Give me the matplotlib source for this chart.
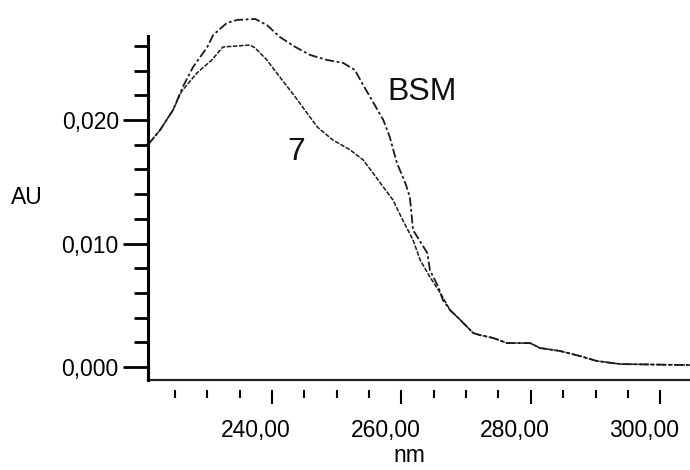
import numpy as np
import matplotlib
matplotlib.use("Agg")
import matplotlib.pyplot as plt
from matplotlib.transforms import ScaledTranslation

plt.rcParams['font.family'] = ['Liberation Sans', 'DejaVu Sans']

# absorbance spectra (nm, AU)
bsm_nm = [220.8, 222.7, 224.7, 226.2, 227.8, 230.0, 230.9, 233.0, 234.6, 237.4,
          239.2, 241.2, 243.6, 245.9, 248.5, 251.0, 252.8, 253.9, 255.6, 257.2,
          258.2, 259.3, 260.6, 261.3, 261.8, 264.0, 264.4, 265.7, 266.4, 267.5,
          269.1, 271.1, 272.1, 274.2, 276.3, 279.9, 281.4, 284.5, 287.6, 290.2,
          293.8, 304.6]
bsm_au = [0.01798, 0.01919, 0.02081, 0.02267, 0.02429, 0.02591, 0.02688, 0.02785,
          0.02810, 0.02818, 0.02769, 0.02672, 0.02591, 0.02526, 0.02486, 0.02462,
          0.02405, 0.02300, 0.02146, 0.02000, 0.01862, 0.01652, 0.01490, 0.01377,
          0.01109, 0.00923, 0.00785, 0.00648, 0.00543, 0.00462, 0.00381, 0.00275,
          0.00259, 0.00235, 0.00194, 0.00194, 0.00154, 0.00130, 0.00089, 0.00049,
          0.00024, 0.00016]

s7_nm = [220.8, 222.7, 224.7, 226.0, 228.4, 230.7, 232.4, 236.6, 237.4, 239.2,
         241.2, 243.6, 245.4, 247.0, 249.4, 252.1, 254.1, 255.6, 257.2, 258.7,
         260.2, 261.8, 262.9, 264.4, 266.0, 267.5, 269.1, 271.1, 272.1, 274.2,
         276.3, 279.9, 281.4, 284.5, 287.6, 290.2, 293.8, 304.6]
s7_au = [0.01798, 0.01919, 0.02081, 0.02230, 0.02381, 0.02486, 0.02591, 0.02607,
         0.02583, 0.02486, 0.02348, 0.02186, 0.02057, 0.01943, 0.01838, 0.01757,
         0.01676, 0.01571, 0.01457, 0.01352, 0.01190, 0.01028, 0.00866, 0.00729,
         0.00600, 0.00462, 0.00381, 0.00275, 0.00259, 0.00235, 0.00194, 0.00194,
         0.00154, 0.00130, 0.00089, 0.00049, 0.00024, 0.00016]

x_major = [240, 260, 280, 300]
x_minor = np.arange(225, 305, 5)
y_major = [0.0, 0.010, 0.020]
y_minor = np.arange(0.0, 0.0265, 0.002)

fig = plt.figure(figsize=(6.9, 4.7), dpi=100)
ax = fig.add_axes([148/690, 1 - 380/470, 1 - 148/690, (380 - 36)/470])

ax.plot(bsm_nm, bsm_au, color='#1a1a1a', lw=1.3, ls=(0, (5, 1.5, 1.5, 1.5)), clip_on=False)
ax.plot(s7_nm, s7_au, color='#1a1a1a', lw=1.1, ls=(0, (3, 1)), clip_on=False)

ax.set_xlim(220.83, 304.6)
ax.set_ylim(-0.00105, 0.0268)

for side in ['top', 'right']:
    ax.spines[side].set_visible(False)
ax.spines['left'].set_linewidth(2.2)
# bottom ticks sit below a gap, so move the spine and draw the axis line by hand
ax.spines['bottom'].set_position(('outward', 7))
ax.spines['bottom'].set_color('none')
ax.plot([0, 1], [0, 0], transform=ax.transAxes, color='#222222', lw=1.6, clip_on=False)

ax.set_yticks(y_major)
ax.set_yticks(y_minor, minor=True)
ax.set_yticklabels(['0,000', '0,010', '0,020'])
ax.tick_params(axis='y', which='major', length=18, width=2, pad=3, labelsize=16.5)
ax.tick_params(axis='y', which='minor', length=10, width=2)

ax.set_xticks(x_major)
ax.set_xticks(x_minor, minor=True)
ax.set_xticklabels(['240,00', '260,00', '280,00', '300,00'])
ax.tick_params(axis='x', which='major', length=10, width=1.5, pad=11, labelsize=16.5)
ax.tick_params(axis='x', which='minor', length=6, width=1.5)
shift = ScaledTranslation(-16/100, 0, fig.dpi_scale_trans)
for lab in ax.get_xticklabels():
    lab.set_transform(lab.get_transform() + shift)

ax.text(257.8, 0.02162, 'BSM', fontsize=23, color='#111111')
ax.text(242.3, 0.01676, '7', fontsize=23, color='#111111')

fig.text(27/690, 1 - 198/470, 'AU', fontsize=16.5, ha='center', va='center')
fig.text(409/690, 1 - 456/470, 'nm', fontsize=16.5, ha='center', va='center')

fig.savefig('out.png', dpi=100)
